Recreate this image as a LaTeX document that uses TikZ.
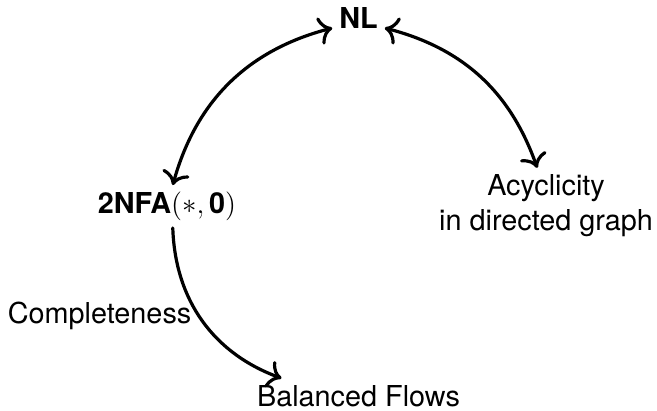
\documentclass[tikz,border=0pt]{standalone}
\usepackage{amsmath}
\usepackage{amssymb}
\usepackage{fontspec}
\setmainfont{TeX Gyre Heros}
\usepackage{tikz}
\usetikzlibrary{arrows.meta}

\begin{document}
\begin{tikzpicture}[font=\fontsize{14.4}{17.5}\selectfont,>={To[scale=1.3]}]
        \useasboundingbox (0,0) rectangle (11.545,7.205);
        \node (nl) at (6.300,6.897) {\textbf{NL}};
        \node (nfa) at (2.935,3.576) {\textbf{2NFA}$(\ast,\textbf{0})$};
        \node[align=center] (acy) at (9.595,3.585) {Acyclicity\\in directed graph};
        \node (compl) at (1.749,1.652) {Completeness};
        \node (bf) at (6.300,0.246) {Balanced Flows};
        \draw[line width=1.6pt,line cap=round,<->] (nl.base west) to[bend right=30] (nfa.75);
        \draw[line width=1.6pt,line cap=round,<->] (nl.base east) to[bend left=28] (acy.103);
        \draw[line width=1.6pt,line cap=round,->] (nfa.-75) to[bend right=34] (bf.167);
    \end{tikzpicture}
\end{document}
